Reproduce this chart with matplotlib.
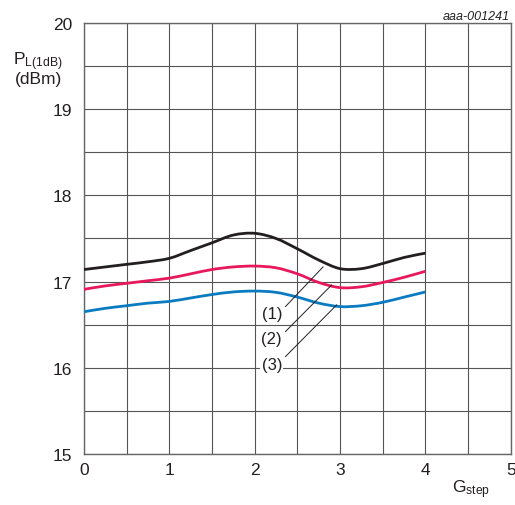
import matplotlib
matplotlib.use("Agg")
import matplotlib.pyplot as plt
import numpy as np
from matplotlib.path import Path
from matplotlib.patches import PathPatch

plt.rcParams["font.family"] = ["Liberation Sans", "DejaVu Sans"]
plt.rcParams["mathtext.fontset"] = "custom"
plt.rcParams["mathtext.rm"] = "Liberation Sans"
plt.rcParams["mathtext.it"] = "Liberation Sans:italic"

g_step = [0, 0.25, 0.5, 0.75, 1, 1.25, 1.5, 1.75, 2, 2.25, 2.5, 2.75, 3, 3.25, 3.5, 3.75, 4]

# P_L(1dB) curves (dBm)
curve_1 = [17.14, 17.17, 17.20, 17.23, 17.27, 17.36, 17.45, 17.54, 17.56,
           17.50, 17.38, 17.25, 17.15, 17.15, 17.21, 17.28, 17.33]
curve_2 = [16.91, 16.95, 16.98, 17.01, 17.04, 17.09, 17.14, 17.17, 17.18,
           17.16, 17.09, 16.99, 16.93, 16.94, 16.99, 17.05, 17.12]
curve_3 = [16.65, 16.69, 16.72, 16.75, 16.77, 16.81, 16.85, 16.88, 16.89,
           16.875, 16.82, 16.75, 16.71, 16.72, 16.76, 16.82, 16.88]

labels = ["(1)", "(2)", "(3)"]
label_pos = [(2.2, 16.63), (2.2, 16.34), (2.2, 16.04)]
leader_start = [(2.36, 16.71), (2.36, 16.42), (2.36, 16.13)]
leader_end = [(2.80, 17.17), (2.90, 16.96), (2.96, 16.73)]

colors = ["#231f20", "#e8185c", "#0a7bc0"]


def smooth_path(xs, ys):
    # Catmull-Rom segments through the points, written as cubic Bezier pieces
    pts = np.column_stack([xs, ys]).astype(float)
    verts = [pts[0]]
    codes = [Path.MOVETO]
    n = len(pts)
    for i in range(n - 1):
        p0 = pts[max(i - 1, 0)]
        p1 = pts[i]
        p2 = pts[i + 1]
        p3 = pts[min(i + 2, n - 1)]
        c1 = p1 + (p2 - p0) / 6.0
        c2 = p2 - (p3 - p1) / 6.0
        verts += [c1, c2, p2]
        codes += [Path.CURVE4] * 3
    return Path(verts, codes)


fig = plt.figure(figsize=(5.15, 5.06), dpi=100)
ax = fig.add_axes([0.163, 0.1008, 0.829, 0.8518])

ax.set_xlim(0, 5)
ax.set_ylim(15, 20)
ax.set_xticks(np.arange(0, 5.01, 0.5), minor=True)
ax.set_yticks(np.arange(15, 20.01, 0.5), minor=True)
ax.set_xticks(range(0, 6))
ax.set_yticks(range(15, 21))
ax.grid(True, which="both", color="#555555", linewidth=0.8)
ax.tick_params(which="both", length=0, labelsize=12.5, colors="#231f20")
ax.tick_params(axis="y", pad=8.5)
ax.tick_params(axis="x", pad=6)
for sp in ax.spines.values():
    sp.set_color("#666666")
    sp.set_linewidth(1.0)
ax.set_axisbelow(True)

for ys, c in zip([curve_1, curve_2, curve_3], colors):
    ax.add_patch(PathPatch(smooth_path(g_step, ys), facecolor="none", edgecolor=c,
                           linewidth=2.0, capstyle="butt", joinstyle="round", zorder=3))

for lab, (lx, ly), (sx, sy), (ex, ey) in zip(labels, label_pos, leader_start, leader_end):
    ax.plot([sx, ex], [sy, ey], color="#231f20", linewidth=0.7, zorder=4)
    ax.text(lx, ly, lab, fontsize=12, ha="center", va="center", color="#231f20",
            bbox=dict(facecolor="white", edgecolor="none", pad=0.8), zorder=5)

fig.text(0.074, 0.878, r"$\mathregular{P_{L(1dB)}}$", fontsize=12.5, ha="center",
         va="center", color="#231f20")
fig.text(0.074, 0.842, "(dBm)", fontsize=12.5, ha="center", va="center",
         color="#231f20")
fig.text(0.952, 0.032, r"$\mathregular{G_{step}}$", fontsize=12.5, ha="right",
         va="center", color="#231f20")
fig.text(0.99, 0.967, "aaa-001241", fontsize=9, style="italic", ha="right",
         va="center", color="#231f20")

fig.savefig("out.png", dpi=100)
